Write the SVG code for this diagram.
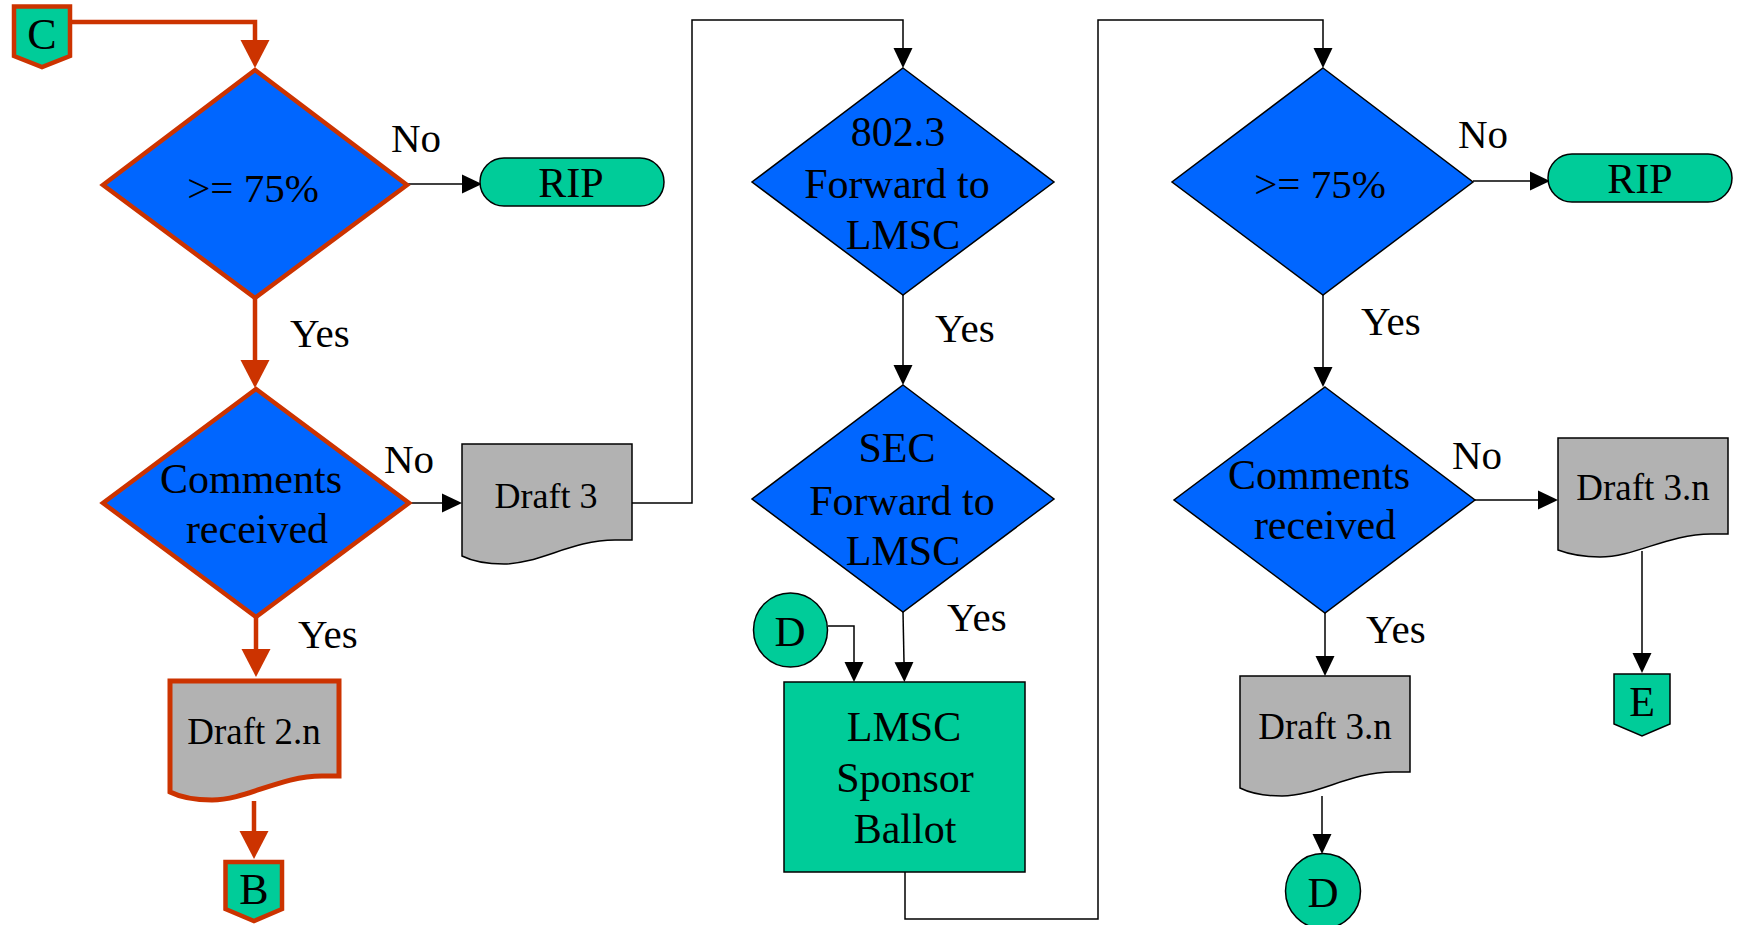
<svg xmlns="http://www.w3.org/2000/svg" width="1737" height="925" viewBox="0 0 1737 925">
<defs>
<style>
text{font-family:"Liberation Serif","Times New Roman",serif;fill:#000}
.t{font-size:42px;text-anchor:middle}
.d{font-size:37px;text-anchor:middle}
.lb{font-size:41px}
.dia{fill:#0066FF;stroke:#000;stroke-width:1.5}
.diao{fill:#0066FF;stroke:#CC3300;stroke-width:4.5}
.doc{fill:#B2B2B2;stroke:#000;stroke-width:1.5}
.doco{fill:#B2B2B2;stroke:#CC3300;stroke-width:5}
.grn{fill:#00CC99;stroke:#000;stroke-width:1.5}
.grno{fill:#00CC99;stroke:#CC3300;stroke-width:4.5}
.cb{fill:none;stroke:#000;stroke-width:1.5;marker-end:url(#ab)}
.co{fill:none;stroke:#CC3300;stroke-width:4.5;marker-end:url(#ao)}
</style>
<marker id="ab" markerUnits="userSpaceOnUse" markerWidth="20" markerHeight="20" viewBox="0 0 20 20" refX="0" refY="10" orient="auto"><path d="M0,0.5 L20,10 L0,19.5 Z" fill="#000"/></marker>
<marker id="ao" markerUnits="userSpaceOnUse" markerWidth="28" markerHeight="30" viewBox="0 0 28 30" refX="0" refY="15" orient="auto"><path d="M0,0.5 L28,15 L0,29.5 Z" fill="#CC3300"/></marker>
</defs>

<g id="connectors">
<path class="co" d="M72,22 H255 V40"/>
<path class="cb" d="M407,184 H462"/>
<path class="co" d="M255,298 V360"/>
<path class="cb" d="M410,503 H442"/>
<path class="cb" d="M632,503 H692 V20 H903 V48"/>
<path class="co" d="M256,617 V649"/>
<path class="co" d="M254,801 V831"/>
<path class="cb" d="M903,295 V365"/>
<path class="cb" d="M903,612 L904,662"/>
<path class="cb" d="M828,626 H854 V662"/>
<path class="cb" d="M905,872 V919 H1098 V20 H1323 V48"/>
<path class="cb" d="M1473,181 H1530"/>
<path class="cb" d="M1323,295 V367"/>
<path class="cb" d="M1475,500 H1538"/>
<path class="cb" d="M1325,613 V656"/>
<path class="cb" d="M1642,551 V653"/>
<path class="cb" d="M1322,796 V834"/>
<text class="lb" x="391" y="152">No</text>
<text class="lb" x="290" y="347">Yes</text>
<text class="lb" x="384" y="473">No</text>
<text class="lb" x="298" y="648">Yes</text>
<text class="lb" x="935" y="342">Yes</text>
<text class="lb" x="947" y="631">Yes</text>
<text class="lb" x="1458" y="148">No</text>
<text class="lb" x="1361" y="335">Yes</text>
<text class="lb" x="1452" y="469">No</text>
<text class="lb" x="1366" y="643">Yes</text>
</g>

<g id="conn-C">
<polygon class="grno" points="14,6.5 70,6.5 70,56 42,67 14,56"/>
<text class="t" x="42" y="49" style="font-size:44px">C</text>
</g>

<g id="decision-75-1">
<polygon class="diao" points="255,70 407,185 255,298 103,185"/>
<text class="t" x="253" y="202" style="font-size:41px">&gt;= 75%</text>
</g>

<g id="rip-1">
<rect class="grn" x="480" y="158" width="184" height="48" rx="24"/>
<text class="t" x="571" y="197">RIP</text>
</g>

<g id="decision-comments-1">
<polygon class="diao" points="256,389 409,503 256,617 103,503"/>
<text class="t" x="251" y="493">Comments</text>
<text class="t" x="257" y="543">received</text>
</g>

<g id="draft-3">
<path class="doc" d="M462,444 H632 V540 H615 C572,540 539,564 504,564 C482,564 470,560 462,556 Z"/>
<text class="d" x="546" y="508" style="font-size:36px">Draft 3</text>
</g>

<g id="draft-2n">
<path class="doco" d="M170,681 H339 V776 H322 C280,776 246,800 212,800 C190,800 178,796 170,792 Z"/>
<text class="d" x="254" y="744">Draft 2.n</text>
</g>

<g id="conn-B">
<polygon class="grno" points="225.5,862 282,862 282,909 254,921 225.5,909"/>
<text class="t" x="254" y="904" style="font-size:44px">B</text>
</g>

<g id="decision-8023">
<polygon class="dia" points="903,68 1054,182 903,295 752,182"/>
<text class="t" x="898" y="146">802.3</text>
<text class="t" x="897" y="198">Forward to</text>
<text class="t" x="903" y="249">LMSC</text>
</g>

<g id="decision-sec">
<polygon class="dia" points="903,385 1054,499 903,612 752,499"/>
<text class="t" x="897" y="462">SEC</text>
<text class="t" x="902" y="515">Forward to</text>
<text class="t" x="903" y="565">LMSC</text>
</g>

<g id="conn-D-1">
<circle class="grn" cx="790.5" cy="630" r="37"/>
<text class="t" x="790" y="646" style="font-size:43px">D</text>
</g>

<g id="lmsc-ballot">
<rect class="grn" x="784" y="682" width="241" height="190"/>
<text class="t" x="904" y="741">LMSC</text>
<text class="t" x="905" y="792">Sponsor</text>
<text class="t" x="905" y="843">Ballot</text>
</g>

<g id="decision-75-2">
<polygon class="dia" points="1323,68 1473,182 1323,295 1172,182"/>
<text class="t" x="1320" y="198" style="font-size:41px">&gt;= 75%</text>
</g>

<g id="rip-2">
<rect class="grn" x="1548" y="154" width="184" height="48" rx="24"/>
<text class="t" x="1640" y="193">RIP</text>
</g>

<g id="decision-comments-2">
<polygon class="dia" points="1325,387 1475,500 1325,613 1174,500"/>
<text class="t" x="1319" y="489">Comments</text>
<text class="t" x="1325" y="539">received</text>
</g>

<g id="draft-3n-right">
<path class="doc" d="M1558,438 H1728 V534 H1711 C1668,534 1635,557 1600,557 C1578,557 1566,553 1558,550 Z"/>
<text class="d" x="1643" y="500">Draft 3.n</text>
</g>

<g id="conn-E">
<polygon class="grn" points="1614,674 1670,674 1670,724 1642,736 1614,724"/>
<text class="t" x="1642" y="716" style="font-size:42px">E</text>
</g>

<g id="draft-3n-lower">
<path class="doc" d="M1240,676 H1410 V772 H1393 C1350,772 1317,796 1282,796 C1260,796 1248,792 1240,788 Z"/>
<text class="d" x="1325" y="739">Draft 3.n</text>
</g>

<g id="conn-D-2">
<circle class="grn" cx="1323" cy="891" r="37.5"/>
<text class="t" x="1323" y="907" style="font-size:43px">D</text>
</g>
</svg>
